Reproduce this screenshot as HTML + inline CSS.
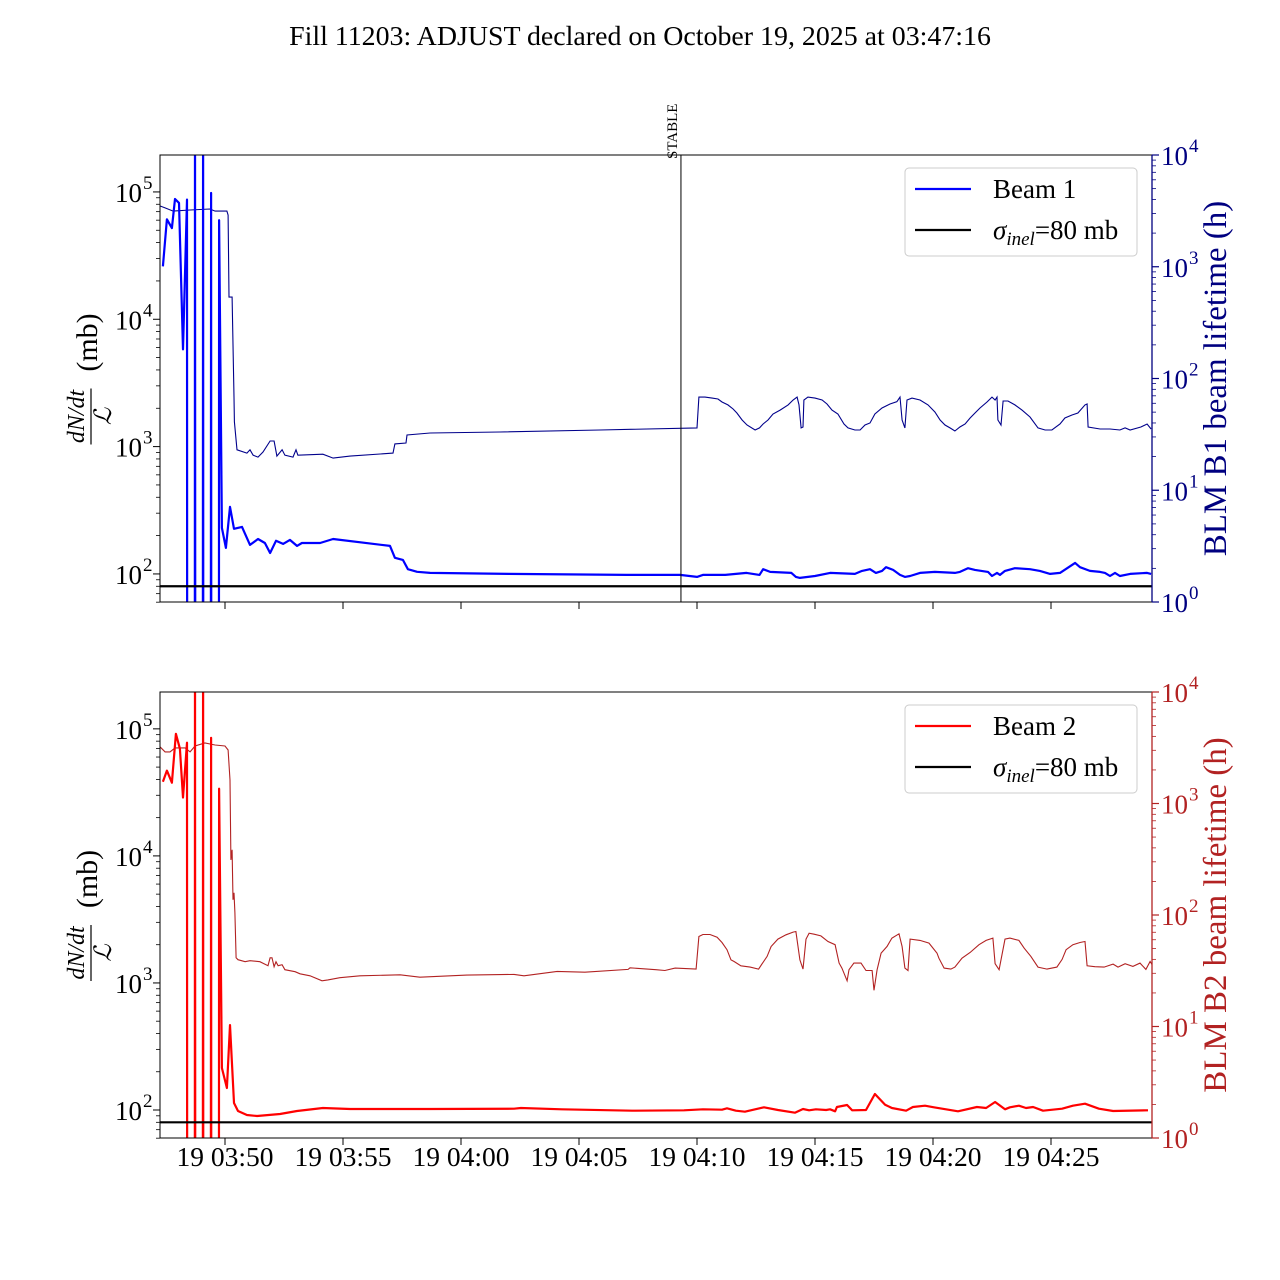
<!DOCTYPE html>
<html><head><meta charset="utf-8"><title>Fill 11203</title>
<style>
html,body{margin:0;padding:0;background:#fff;}
svg{display:block;font-family:"Liberation Serif","DejaVu Serif",serif;}
</style></head>
<body>
<svg id="chart" width="1280" height="1280" viewBox="0 0 1280 1280" xmlns="http://www.w3.org/2000/svg">
<rect width="1280" height="1280" fill="#fff"/>
<text x="640" y="45" font-size="27.9" text-anchor="middle">Fill 11203: ADJUST declared on October 19, 2025 at 03:47:16</text>
<g id="g"></g>
</svg>
<script>
// time: minutes relative to 03:50:00
const b1T=[-2.63,-2.46,-2.25,-2.12,-1.95,-1.78,-1.61,-1.60,-1.28,-1.27,-1.26,-0.94,-0.93,-0.92,-0.60,-0.59,-0.58,-0.26,-0.25,-0.13,0.04,0.21,0.38,0.72,1.06,1.40,1.69,1.91,2.16,2.46,2.75,3.05,3.26,4.03,4.58,6.99,7.20,7.54,7.75,8.14,8.69,12.0,17,19.28,20.0,20.25,21.2,22.1,22.65,22.80,23.1,24.0,24.19,24.36,25.0,25.64,26.69,26.99,27.33,27.58,27.84,28.01,28.31,28.60,28.81,29.03,29.45,30.08,30.93,31.14,31.48,31.78,32.33,32.50,32.71,32.84,33.05,33.47,34.11,34.53,34.96,35.38,36.02,36.23,36.65,37.08,37.29,37.50,37.71,37.92,38.35,39.07,39.24];
const b1V=[26000,61000,52000,88000,82000,5800,87000,1,1,1e6,1,1,1e6,1,1,98000,1,1,60000,230,160,336,226,234,169,188,175,146,182,172,185,166,175,175,188,166,134,129,109,104,101.8,100,98.2,98.2,94.7,98.2,98.2,101.8,98.2,109,103.7,101.8,94.7,93,96.4,101.8,100,105.6,109,101.8,105.6,113,107.5,98.2,94.7,96.4,101.8,103.7,101.8,103.7,111,107.5,103.7,96.4,101.8,98.2,105.6,111,109,105.6,100,101.8,122,113,105.6,103.7,101.8,96.4,101.8,96.4,100,101.8,100];
const l1T=[-2.75,-2.54,-2.20,-1.48,-0.64,-0.42,0.08,0.13,0.17,0.30,0.38,0.40,0.51,0.93,1.06,1.19,1.40,1.61,1.91,2.08,2.20,2.42,2.54,2.88,3.01,3.09,4.15,4.58,5.30,7.12,7.20,7.67,7.71,8.69,11.65,15.89,20.00,20.08,20.34,20.64,20.89,21.06,21.31,21.53,21.69,21.91,22.12,22.46,22.65,22.80,23.01,23.22,23.52,23.86,24.07,24.24,24.32,24.41,24.49,24.53,24.70,25.0,25.30,25.51,25.72,25.97,26.23,26.40,26.69,26.91,27.12,27.33,27.54,27.84,28.18,28.47,28.60,28.69,28.81,28.90,29.11,29.45,29.79,30.08,30.30,30.51,30.72,30.93,31.14,31.36,31.57,31.78,31.99,32.29,32.50,32.63,32.71,32.75,32.88,32.97,33.18,33.47,33.77,34.11,34.45,34.75,35.04,35.38,35.59,35.89,36.14,36.44,36.53,36.57,37.08,37.50,37.92,38.14,38.35,38.81,39.07,39.24];
const l1V=[3500,3360,3150,3220,3290,3150,3150,2900,535,535,68,41,23,21.5,23,20.6,19.8,22,27.6,27.6,20.2,23,20.6,19.8,23,20.6,21,19.4,20.2,21.5,26,26.5,31.2,32.5,33.2,34.6,36.1,68.2,68.2,66.8,65.6,61.6,58,53.3,49.1,42.5,38.4,34.6,36.1,39.2,42.5,48.1,52.2,58,64.2,68.2,58,36.1,36.8,64.2,68.2,66.8,64.2,59.1,52.2,48.1,39.2,36.1,34.6,34.6,38.4,40,48.1,54.4,59.1,62,68.2,42.5,36.1,64.2,66.8,64.2,58,50.1,42.5,38.4,36.1,33.9,36.8,39.2,44.3,49.1,54.4,61.6,68.2,64.2,68.2,42.5,38.4,62.9,62.9,58,52.2,45.2,36.1,34.6,34.6,39.2,44.3,47.1,49.1,58,59.1,36.8,35.3,35.3,34.6,36.1,34.6,36.8,39.2,35.3];
const b2T=[-2.63,-2.46,-2.25,-2.08,-1.91,-1.78,-1.61,-1.60,-1.28,-1.27,-1.26,-0.94,-0.93,-0.92,-0.60,-0.59,-0.58,-0.26,-0.25,-0.13,0.08,0.21,0.38,0.55,0.93,1.36,2.33,3.05,4.15,5.30,8.69,12.25,12.54,14.28,17.25,19.45,20.25,21.06,21.27,21.65,22.03,22.84,23.43,24.15,24.49,24.75,25.04,25.47,25.64,25.85,25.93,26.36,26.57,27.16,27.54,27.97,28.26,28.86,29.15,29.66,30.04,31.06,31.86,32.25,32.63,33.05,33.26,33.64,33.94,34.24,34.66,35.47,35.93,36.44,37.03,37.63,39.11];
const b2V=[38400,46900,37700,91500,69800,28800,77800,1,1,1e6,1,1,1e6,1,1,85100,1,1,33800,214,149,466,113.5,98.2,91.4,89.7,93,98.2,103.7,101.8,101.8,102.4,103.7,101.3,98.7,99.5,101.3,100.5,103.1,98.7,97,105,100,95.2,101.8,99.5,101.3,100,101.3,97.7,105.6,109.5,99.5,100,133.6,110,103.7,98.7,105.6,108.1,105,97.7,105.6,103.7,115.6,101.3,105,108.1,103.7,105.6,98.7,102.4,108.1,112.1,102.4,98.2,99.5];
const l2T=[-2.75,-2.54,-2.33,-2.12,-1.69,-1.48,-1.27,-0.85,-0.42,0,0.13,0.21,0.25,0.30,0.34,0.38,0.42,0.47,0.55,0.85,1.06,1.48,1.82,1.91,1.99,2.08,2.16,2.25,2.42,2.54,2.97,3.18,3.60,4.11,4.36,4.87,5.72,7.42,8.26,10.25,12.25,12.67,14.07,15.25,17.08,17.16,18.26,18.64,19.07,19.96,20.08,20.25,20.55,20.85,21.06,21.27,21.44,21.57,21.86,22.25,22.61,22.75,22.97,23.14,23.43,23.77,24.07,24.19,24.36,24.49,24.62,24.75,24.96,25.25,25.55,25.85,26.02,26.14,26.36,26.44,26.65,26.95,27.16,27.42,27.50,27.63,27.80,28.05,28.26,28.56,28.69,28.81,28.94,29.03,29.45,29.83,30.17,30.25,30.47,30.76,30.93,31.23,31.57,31.95,32.25,32.54,32.63,32.80,33.05,33.26,33.64,33.86,34.15,34.45,34.83,35.25,35.47,35.64,35.93,36.23,36.44,36.53,36.86,37.25,37.63,37.84,38.14,38.47,38.77,39.02,39.20,39.32];
const l2V=[3215,2900,2900,3150,3150,2900,3280,3490,3350,3280,3020,1625,312,384,137,158,105,41.3,39.7,38.1,38.9,38.1,35.1,41.3,41.3,34.4,38.1,35.1,35.8,32.3,31,29.7,28.5,25.7,26.2,27.4,28.5,29.1,27.7,28.9,29.3,28.5,31.2,30.7,32.5,33.6,32.3,31.8,33.4,32.7,64.1,66.8,66.8,63.2,56.7,48.8,39.6,38.3,35,34.1,32.7,36.3,42.5,52.2,60.8,66.4,70.2,71.1,39.6,32.7,60.8,68.7,67.3,65,57.9,54.1,37,33.4,25.7,32.3,37,37,31.8,31.8,21.1,32.3,45.5,52.2,62,67.8,52.2,33.4,31.8,60.8,59.2,56,45.5,41,33.4,32.7,34.1,41,46.1,54.1,59.2,62,36.6,32.3,60.8,62,59.2,50.5,42.5,34.1,32.7,34.1,40,48.8,54.1,56.7,57.9,35,34.4,34.1,36.3,34.1,36.6,34.6,37,32.5,38.3,34.8];
const xTicks=[0,5,10,15,20,25,30,35];
const xTickLabels=["19 03:50","19 03:55","19 04:00","19 04:05","19 04:10","19 04:15","19 04:20","19 04:25"];
const leftExps=[2,3,4,5];
const rightExps=[0,1,2,3,4];
const sigmaInel=80;
const stableT=19.32;

const NS="http://www.w3.org/2000/svg";
const G=document.getElementById('g');
const X0=160,X1=1152;
function xs(m){return 225+m*23.6;}
function mk(tag,attrs,parent){const e=document.createElementNS(NS,tag);for(const k in attrs)e.setAttribute(k,attrs[k]);(parent||G).appendChild(e);return e;}

function panel(idx,top,bot,dT,dV,lT,lV,dCol,lCol,rCol,beamName,rLabel){
  const pfx='p'+idx+'-';
  const yl=v=>{const lo=Math.log10(60.2),hi=Math.log10(195000);return bot-(Math.log10(v)-lo)/(hi-lo)*(bot-top);};
  const yr=v=>bot-Math.log10(v)/4*(bot-top);
  const clipId='clip'+idx;
  const defs=mk('defs',{});
  const cp=mk('clipPath',{id:clipId},defs);
  mk('rect',{x:X0,y:top,width:X1-X0,height:bot-top},cp);
  const g=mk('g',{'clip-path':'url(#'+clipId+')'});
  
  
  let d='';lT.forEach((t,i)=>{d+=(i?'L':'M')+xs(t).toFixed(1)+','+yr(lV[i]).toFixed(1);});
  const lp=mk('path',{d:d,fill:'none',stroke:lCol,'stroke-width':1.1},g);
  
  
  d='';dT.forEach((t,i)=>{const y=Math.max(-200,Math.min(bot+200,yl(dV[i])));d+=(i?'L':'M')+xs(t).toFixed(1)+','+y.toFixed(1);});
  const dp=mk('path',{d:d,fill:'none',stroke:dCol,'stroke-width':2.2,'stroke-linejoin':'round'},g);
  
  
  const sl=mk('line',{x1:X0,x2:X1,y1:yl(sigmaInel),y2:yl(sigmaInel),stroke:'#000','stroke-width':2.2},g);
  
  
  if(idx===1){
    const st=mk('line',{x1:xs(stableT),x2:xs(stableT),y1:top,y2:bot,stroke:'#000','stroke-width':1});
    
    
    const tx=mk('text',{x:0,y:0,'font-size':15,transform:'translate('+(xs(stableT)-4)+','+(top+4)+') rotate(-90)'});
    tx.textContent='STABLE';
    
    
  }
  const sp=mk('rect',{x:X0,y:top,width:X1-X0,height:bot-top,fill:'none',stroke:'#000','stroke-width':1});
  
  
  const rs=mk('line',{x1:X1,x2:X1,y1:top,y2:bot,stroke:rCol,'stroke-width':1.3});
  
  
  for(let e=1;e<=5;e++){for(let k=1;k<10;k++){const v=k*Math.pow(10,e);const y=yl(v);if(y<top-0.5||y>bot+0.5)continue;
    const tk=mk('line',{x1:X0,x2:X0-(k===1?7:4),y1:y,y2:y,stroke:'#000','stroke-width':k===1?1:0.8});
    
    }}
  leftExps.forEach(e=>{const y=yl(Math.pow(10,e));
    const t=mk('text',{x:142,y:y+10,'font-size':27,'text-anchor':'end'});t.textContent='10';
    
    
    const s=mk('text',{x:143,y:y-3,'font-size':19});s.textContent=String(e);
    
    });
  for(let e=0;e<4;e++){for(let k=1;k<10;k++){const v=k*Math.pow(10,e);const y=yr(v);
    const tk=mk('line',{x1:X1,x2:X1+(k===1?7:4),y1:y,y2:y,stroke:rCol,'stroke-width':k===1?1.2:0.8});
    
    }}
  mk('line',{x1:X1,x2:X1+7,y1:top,y2:top,stroke:rCol,'stroke-width':1.2});
  rightExps.forEach(e=>{const y=yr(Math.pow(10,e));
    const t=mk('text',{x:1161,y:y+10,'font-size':27,fill:rCol});t.textContent='10';
    
    
    const s=mk('text',{x:1189,y:y-3,'font-size':19,fill:rCol});s.textContent=String(e);
    
    });
  xTicks.forEach((m,i)=>{const x=xs(m);
    const tk=mk('line',{x1:x,x2:x,y1:bot,y2:bot+7,stroke:'#000','stroke-width':1});
    
    
    if(idx===2){const t=mk('text',{x:x,y:bot+28,'font-size':27.5,'text-anchor':'middle'});t.textContent=xTickLabels[i];
      
      }});
  const cy=(top+bot)/2;
  const yg=mk('g',{transform:'translate(90,'+cy+') rotate(-90)'});
  
  
  const t1=mk('text',{x:-38,y:-6,'font-size':24,'font-style':'italic','text-anchor':'middle'},yg);t1.textContent='dN/dt';
  mk('line',{x1:-66,x2:-10,y1:1,y2:1,stroke:'#000','stroke-width':1.2},yg);
  const t2=mk('text',{x:-38,y:21,'font-size':24,'font-style':'italic','text-anchor':'middle'},yg);t2.textContent='\u2112';
  const t3=mk('text',{x:36,y:7,'font-size':30,'text-anchor':'middle'},yg);t3.textContent='(mb)';
  const rl=mk('text',{x:0,y:0,'font-size':33,fill:rCol,'text-anchor':'middle',transform:'translate(1226,'+cy+') rotate(-90)'});
  rl.textContent=rLabel;
  
  
  const lg=mk('g',{});
  
  
  const ly=top+13;
  mk('rect',{x:905,y:ly,width:232,height:88,rx:4,fill:'#fff','fill-opacity':0.8,stroke:'#ccc','stroke-width':1},lg);
  mk('line',{x1:915,x2:971,y1:ly+21,y2:ly+21,stroke:dCol,'stroke-width':2.2},lg);
  const e1=mk('text',{x:993,y:ly+30,'font-size':27},lg);e1.textContent=beamName;
  
  
  mk('line',{x1:915,x2:971,y1:ly+62,y2:ly+62,stroke:'#000','stroke-width':2.2},lg);
  const e2=mk('text',{x:993,y:ly+71,'font-size':27},lg);
  e2.innerHTML='<tspan font-style="italic">σ</tspan><tspan font-style="italic" font-size="19" dy="6">inel</tspan><tspan dy="-6">=80 mb</tspan>';
  
  
}
panel(1,155,602,b1T,b1V,l1T,l1V,'#0000ff','#00008b','#000080','Beam 1','BLM B1 beam lifetime (h)');
panel(2,692,1138,b2T,b2V,l2T,l2V,'#ff0000','#b22222','#b22222','Beam 2','BLM B2 beam lifetime (h)');
</script>
</body></html>
